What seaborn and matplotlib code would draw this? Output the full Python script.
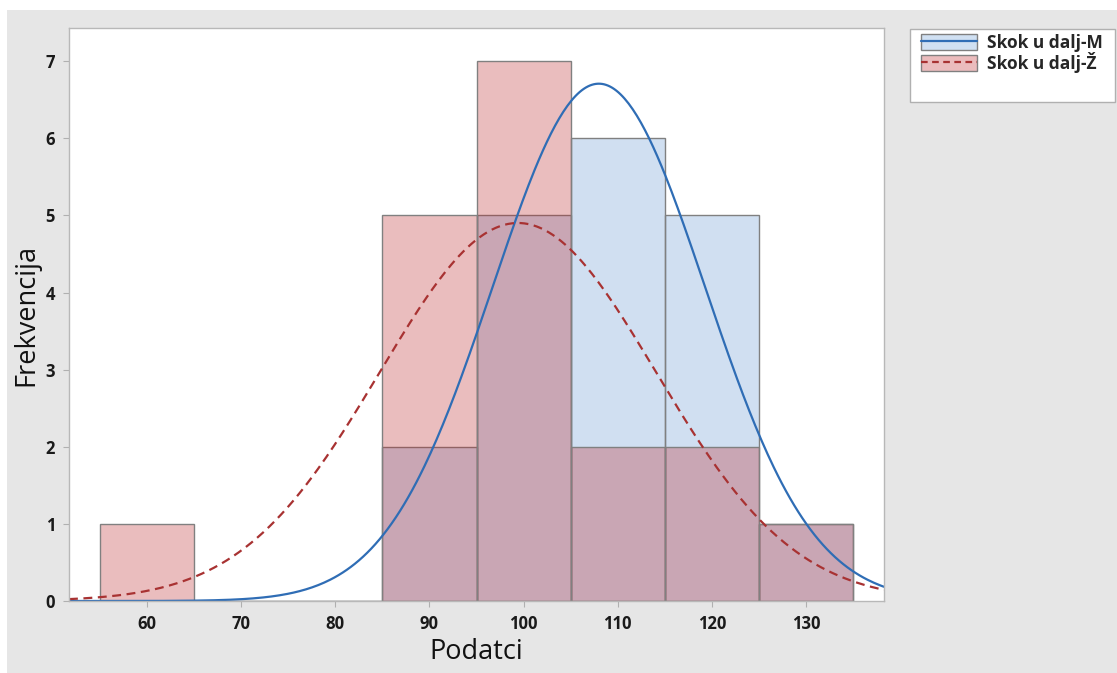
import numpy as np
import matplotlib
matplotlib.use("Agg")
import matplotlib.pyplot as plt
from matplotlib.patches import Rectangle, Patch
from matplotlib.lines import Line2D
import seaborn as sns

# histogram bins (width 10) and counts
bin_centers = [60, 70, 80, 90, 100, 110, 120, 130]
counts_m = [0, 0, 0, 2, 5, 6, 5, 1]
counts_z = [1, 0, 0, 5, 7, 2, 2, 1]
bin_edges = [55, 65, 75, 85, 95, 105, 115, 125, 135]

# fitted normal curves (mean, std dev)
mean_m, sd_m = 108.0, 11.3
mean_z, sd_z = 99.4, 14.65

labels = ["Skok u dalj-M", "Skok u dalj-Ž"]
blue_line = "#2f6db5"
red_line = "#a83232"
blue_fill = "#5d94d2"
red_fill = "#ba1c20"

sns.set_style("ticks")
plt.rcParams["font.family"] = ["Open Sans", "DejaVu Sans"]

fig = plt.figure(figsize=(11.17, 6.73), dpi=100)
fig.patch.set_facecolor("white")
fig.patches.append(Rectangle((7 / 1117, 0), 1, 1 - 10 / 673, transform=fig.transFigure,
                             facecolor="#e6e6e6", edgecolor="none", zorder=-10))

ax = fig.add_axes([69 / 1117, 72 / 673, 815 / 1117, 573 / 673])
ax.set_facecolor("white")

sns.histplot(x=bin_centers, weights=counts_m, bins=bin_edges, color=blue_fill, alpha=0.29,
             edgecolor="#808080", linewidth=1.0, ax=ax)
sns.histplot(x=bin_centers, weights=counts_z, bins=bin_edges, color=red_fill, alpha=0.29,
             edgecolor="#808080", linewidth=1.0, ax=ax)

x_lo, x_hi = 51.7, 138.3
xs = np.linspace(x_lo, x_hi, 400)
width = 10
n_m, n_z = sum(counts_m), sum(counts_z)
ys_m = n_m * width / (sd_m * np.sqrt(2 * np.pi)) * np.exp(-0.5 * ((xs - mean_m) / sd_m) ** 2)
ys_z = n_z * width / (sd_z * np.sqrt(2 * np.pi)) * np.exp(-0.5 * ((xs - mean_z) / sd_z) ** 2)
sns.lineplot(x=xs, y=ys_m, color=blue_line, linewidth=1.6, ax=ax)
sns.lineplot(x=xs, y=ys_z, color=red_line, linewidth=1.6, linestyle=(0, (4, 2.5)), ax=ax)

ax.set_xlim(x_lo, x_hi)
ax.set_ylim(0, 7.43)
ax.set_xticks(range(60, 131, 10))
ax.set_yticks(range(0, 8))
ax.tick_params(axis="both", length=4, color="#b0b0b0", labelsize=12, pad=6)
for lab in ax.get_xticklabels() + ax.get_yticklabels():
    lab.set_fontweight("bold")
    lab.set_color("#1a1a1a")
for sp in ax.spines.values():
    sp.set_visible(True)
    sp.set_color("#b8b8b8")
    sp.set_linewidth(1.0)

ax.set_xlabel("Podatci", fontsize=19.5, color="#111111", labelpad=4)
ax.set_ylabel("Frekvencija", fontsize=19.5, color="#111111", labelpad=4)

# legend box
fig.patches.append(Rectangle((910 / 1117, 1 - 102 / 673), 205 / 1117, 73 / 673,
                             transform=fig.transFigure, facecolor="white",
                             edgecolor="#b0b0b0", linewidth=1.0, zorder=5))
handles = [
    (Patch(facecolor="#d0e0f2", edgecolor="#808080"), Line2D([], [], color=blue_line, linewidth=1.6)),
    (Patch(facecolor="#ebbcbd", edgecolor="#808080"), Line2D([], [], color=red_line, linewidth=1.6,
                                                            linestyle=(0, (3, 2)))),
]
leg = fig.legend(handles, labels, loc="upper left", bbox_to_anchor=(914 / 1117, 1 - 27 / 673),
                 frameon=False, prop={"weight": "bold", "size": 12.5}, handlelength=3.2,
                 handleheight=1.0, labelspacing=0.0, handletextpad=0.6, borderaxespad=0)
leg.set_zorder(6)

fig.savefig("out.png", dpi=100)
